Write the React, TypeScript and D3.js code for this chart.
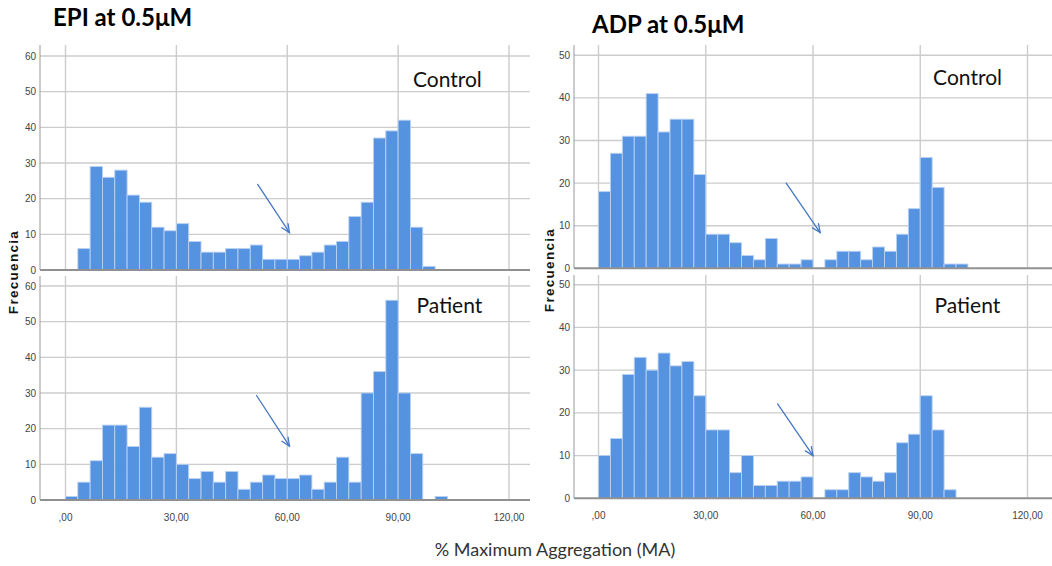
import React from 'react';
import * as d3 from 'd3';

// histogram counts per bin (bin width 10/3, first bin starts at 0)
const binWidth = 10 / 3;
const epiControl = [0, 6, 29, 26, 28, 21, 19, 12, 11, 13, 8, 5, 5, 6, 6, 7, 3, 3, 3, 4, 5, 7, 8, 15, 19, 37, 39, 42, 12, 1];
const epiPatient = [1, 5, 11, 21, 21, 15, 26, 12, 13, 10, 6, 8, 5, 8, 3, 5, 7, 6, 6, 7, 3, 5, 12, 5, 30, 36, 56, 30, 13, 0, 1];
const adpControl = [18, 27, 31, 31, 41, 32, 35, 35, 22, 8, 8, 6, 3, 2, 7, 1, 1, 2, 0, 2, 4, 4, 2, 5, 4, 8, 14, 26, 19, 1, 1];
const adpPatient = [10, 14, 29, 33, 30, 34, 31, 32, 24, 16, 16, 6, 10, 3, 3, 4, 4, 5, 0, 2, 2, 6, 5, 4, 6, 13, 15, 24, 16, 2];

const xTicks = [0, 30, 60, 90, 120];
const xTickLabels = [',00', '30,00', '60,00', '90,00', '120,00'];
const epiYTicks = [0, 10, 20, 30, 40, 50, 60];
const adpYTicks = [0, 10, 20, 30, 40, 50];

// annotation arrows, in data units [x, count]
const epiControlArrow = [[52, 24], [60.6, 10.5]];
const epiPatientArrow = [[51.7, 29.3], [60.6, 15.1]];
const adpControlArrow = [[52.5, 20], [62, 8.4]];
const adpPatientArrow = [[50.1, 22.1], [60, 10]];

const BAR = '#5592e0';
const GRID = '#cccccc';
const tickFont = '"Liberation Sans Narrow", "Liberation Sans", sans-serif';
const textFont = 'Lato, "Open Sans", sans-serif';

function Arrow({ x1, y1, x2, y2 }) {
  const ang = Math.atan2(y1 - y2, x1 - x2);
  const len = 9;
  const spread = 0.42;
  const a = [x2 + len * Math.cos(ang + spread), y2 + len * Math.sin(ang + spread)];
  const b = [x2 + len * Math.cos(ang - spread), y2 + len * Math.sin(ang - spread)];
  return (
    <g stroke="#4677c4" strokeWidth={1.3} fill="none" strokeLinecap="round">
      <line x1={x1} y1={y1} x2={x2} y2={y2} />
      <polyline points={`${a[0]},${a[1]} ${x2},${y2} ${b[0]},${b[1]}`} />
    </g>
  );
}

function Panel({ counts, yTicks, yMax, axisX, x0, x1, right, top, y0, yTop, label, labelX, labelY, arrow, showXLabels }) {
  const x = d3.scaleLinear().domain([0, 120]).range([x0, x1]);
  const y = d3.scaleLinear().domain([0, yMax]).range([y0, yTop]);
  return (
    <g>
      {xTicks.map((t) => (
        <line key={'v' + t} x1={x(t)} x2={x(t)} y1={top} y2={y0} stroke={GRID} strokeWidth={1.4} />
      ))}
      {yTicks.filter((t) => t > 0).map((t) => (
        <line key={'h' + t} x1={axisX} x2={right} y1={y(t)} y2={y(t)} stroke={GRID} strokeWidth={1.4} />
      ))}
      {counts.map((c, i) =>
        c > 0 ? (
          <rect
            key={i}
            x={x(i * binWidth)}
            y={y(c)}
            width={x(binWidth) - x(0)}
            height={y(0) - y(c)}
            fill={BAR}
            stroke="#b9d1f2"
            strokeWidth={0.9}
          />
        ) : null
      )}
      <line x1={axisX} x2={right} y1={y0} y2={y0} stroke="#909090" strokeWidth={2} />
      <line x1={axisX} x2={axisX} y1={top} y2={y0} stroke="#999" strokeWidth={1} />
      {yTicks.map((t) => (
        <text key={'yl' + t} x={axisX - 4} y={y(t) + 3.5} textAnchor="end" fontSize={10} fontFamily={tickFont} fill="#444">
          {t}
        </text>
      ))}
      {showXLabels &&
        xTicks.map((t, i) => (
          <text key={'xl' + t} x={x(t)} y={y0 + 21} textAnchor="middle" fontSize={10} fontFamily={tickFont} fill="#444">
            {xTickLabels[i]}
          </text>
        ))}
      <text x={x(labelX)} y={labelY} fontSize={21} fontFamily={textFont} fill="#111">
        {label}
      </text>
      <Arrow x1={x(arrow[0][0])} y1={y(arrow[0][1])} x2={x(arrow[1][0])} y2={y(arrow[1][1])} />
    </g>
  );
}

function YLabel({ cx, cy }) {
  return (
    <text
      transform={`translate(${cx},${cy}) rotate(-90)`}
      textAnchor="middle"
      fontSize={13.5}
      fontWeight="bold"
      letterSpacing={1.3}
      fontFamily='"Liberation Sans", Arial, sans-serif'
      fill="#111"
    >
      Frecuencia
    </text>
  );
}

export default function App() {
  return (
    <svg width={1052} height={566} style={{ position: 'absolute', left: 0, top: 0, background: '#fff' }}>
      <text x={53} y={26} fontSize={24} fontWeight="bold" fontFamily={textFont} fill="#000">EPI at 0.5μM</text>
      <text x={592} y={33} fontSize={24} fontWeight="bold" fontFamily={textFont} fill="#000">ADP at 0.5μM</text>

      <Panel counts={epiControl} yTicks={epiYTicks} yMax={60} axisX={40} x0={65.5} x1={509} right={530}
        top={45} y0={270} yTop={56} label="Control" labelX={94} labelY={87} arrow={epiControlArrow} showXLabels={false} />
      <Panel counts={epiPatient} yTicks={epiYTicks} yMax={60} axisX={40} x0={65.5} x1={509} right={530}
        top={276} y0={500} yTop={286} label="Patient" labelX={95} labelY={313} arrow={epiPatientArrow} showXLabels={true} />
      <Panel counts={adpControl} yTicks={adpYTicks} yMax={50} axisX={574} x0={598.5} x1={1027.5} right={1052}
        top={45} y0={268.3} yTop={55.3} label="Control" labelX={93.6} labelY={85} arrow={adpControlArrow} showXLabels={false} />
      <Panel counts={adpPatient} yTicks={adpYTicks} yMax={50} axisX={574} x0={598.5} x1={1027.5} right={1052}
        top={275} y0={498.3} yTop={284.7} label="Patient" labelX={94} labelY={313} arrow={adpPatientArrow} showXLabels={true} />

      <YLabel cx={18} cy={272} />
      <YLabel cx={554} cy={270} />

      <text x={555} y={556} textAnchor="middle" fontSize={18} fontFamily={textFont} fill="#333">
        % Maximum Aggregation (MA)
      </text>
    </svg>
  );
}
